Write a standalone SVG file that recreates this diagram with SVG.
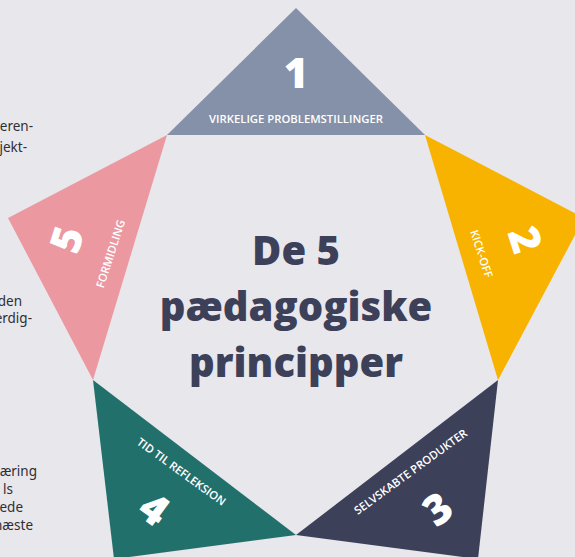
<svg xmlns="http://www.w3.org/2000/svg" width="575" height="557" viewBox="0 0 575 557">
  <style>
    .num { font-family: "Open Sans", "DejaVu Sans", sans-serif; font-weight: 800; font-size: 42px; fill: #ffffff; text-anchor: middle; }
    .lbl { font-family: "Open Sans", "DejaVu Sans", sans-serif; font-weight: 600; font-size: 11.3px; fill: #ffffff; text-anchor: middle; }
    .title { font-family: "Open Sans", "DejaVu Sans", sans-serif; font-weight: 800; font-size: 40px; fill: #3c4059; text-anchor: middle; }
    .side { font-family: "Noto Sans", "DejaVu Sans", sans-serif; font-size: 13.5px; fill: #2e2e33; text-anchor: end; }
  </style>
  <rect width="575" height="557" fill="#e8e7ec"/>

  <g id="side-text">
    <text class="side" x="33" y="131">veren-</text>
    <text class="side" x="27" y="152">jekt-</text>
    <text class="side" x="22" y="306">den</text>
    <text class="side" x="32" y="323">erdig-</text>
    <text class="side" x="37" y="476">æring</text>
    <text class="side" x="13" y="494">ls</text>
    <text class="side" x="23" y="512">ede</text>
    <text class="side" x="33" y="530">næste</text>
  </g>

  <g id="node-1">
    <polygon points="167,135 425,135 296,8" fill="#8591a8"/>
    <text class="num" x="296" y="88">1</text>
    <text class="lbl" x="296" y="123">VIRKELIGE PROBLEMSTILLINGER</text>
  </g>

  <g id="node-2">
    <polygon points="425,135 498,380 584,218" fill="#f8b200"/>
    <g transform="rotate(72 296 314)">
      <text class="num" x="296" y="88">2</text>
      <text class="lbl" x="296" y="123">KICK-OFF</text>
    </g>
  </g>

  <g id="node-3">
    <polygon points="498,380 296,535 478,559" fill="#3c4059"/>
    <g transform="rotate(144 296 314)">
      <text class="num" x="296" y="88" transform="rotate(180 296 73)">3</text>
      <text class="lbl" x="296" y="123" transform="rotate(180 296 119)">SELVSKABTE PRODUKTER</text>
    </g>
  </g>

  <g id="node-4">
    <polygon points="296,535 93,380 114,559" fill="#22706b"/>
    <g transform="rotate(216 296 314)">
      <text class="num" x="296" y="88" transform="rotate(180 296 73)">4</text>
      <text class="lbl" x="296" y="123" transform="rotate(180 296 119)">TID TIL REFLEKSION</text>
    </g>
  </g>

  <g id="node-5">
    <polygon points="93,380 167,135 8,218" fill="#ec98a1"/>
    <g transform="rotate(288 296 314)">
      <text class="num" x="296" y="88">5</text>
      <text class="lbl" x="296" y="123">FORMIDLING</text>
    </g>
  </g>

  <g id="center-title">
    <text class="title" x="296" y="265">De 5</text>
    <text class="title" x="296" y="321">pædagogiske</text>
    <text class="title" x="296" y="377">principper</text>
  </g>

  <g id="connectors"></g>
</svg>
